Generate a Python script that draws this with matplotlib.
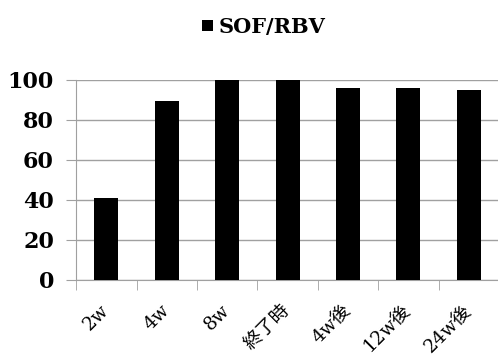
import numpy as np
import matplotlib.pyplot as plt

categories = ['2w', '4w', '8w', '終了時', '4w後', '12w後', '24w後']
values = [41, 89.5, 100, 100, 95.8, 95.8, 94.8]
series_name = 'SOF/RBV'

fonts = ['DejaVu Serif', 'Noto Sans CJK JP']
plt.rcParams['font.family'] = fonts

fig = plt.figure(figsize=(4.98, 3.58), dpi=100)
ax = fig.add_axes([0.153, 0.218, 0.849, 0.559])

x = np.arange(len(categories))
ax.bar(x, values, width=0.4, color='black', label=series_name, zorder=3)

ax.set_xlim(-0.5, len(categories) - 0.5)
ax.set_ylim(0, 100)
ax.set_yticks(np.arange(0, 101, 20))
ax.grid(axis='y', color='#a0a0a0', linewidth=1, zorder=0)

# category boundaries get the tick marks, centres get the labels
ax.set_xticks(x)
ax.set_xticklabels(categories, rotation=45, ha='right', va='center',
                   rotation_mode='anchor', fontsize=13.5)
ax.set_xticks(np.arange(-0.5, len(categories) - 0.5, 1), minor=True)
ax.tick_params(axis='x', which='major', length=0, pad=20)
ax.tick_params(axis='x', which='minor', length=7, color='#a0a0a0', direction='out')
ax.tick_params(axis='y', length=7, color='#a0a0a0', labelsize=16, pad=9)
for lbl in ax.get_yticklabels():
    lbl.set_fontweight('semibold')

for side in ['top', 'right']:
    ax.spines[side].set_visible(False)
for side in ['left', 'bottom']:
    ax.spines[side].set_color('#a0a0a0')

fig.legend(loc='center', bbox_to_anchor=(0.53, 0.925), frameon=False,
           handlelength=0.5, handleheight=0.5, handletextpad=0.3,
           prop={'family': fonts, 'size': 15, 'weight': 'bold'})

fig.savefig('out.png', dpi=100)
